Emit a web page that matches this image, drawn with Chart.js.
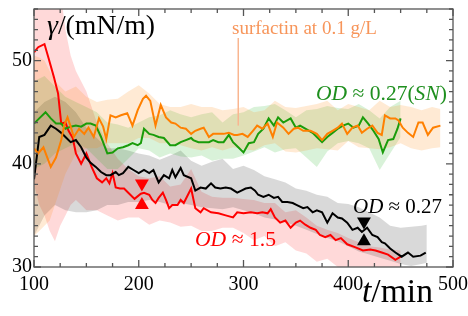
<!DOCTYPE html>
<html><head><meta charset="utf-8">
<script src="https://cdn.jsdelivr.net/npm/chart.js@4/dist/chart.umd.min.js"></script>
<style>html,body{margin:0;padding:0;background:#fff}canvas{display:block}</style>
</head><body>
<canvas id="c" width="468" height="316"></canvas>
<script>
// ---------- data (t in min, gamma in mN/m) ----------
const xTickLabels = [100, 200, 300, 400, 500];
const yTickLabels = [30, 40, 50];

const redT = [100,104,110,114,119,123,126,130,133,137,140,145,150,155,160,165,169,172,175,178,182,186,190,196,202,205,210,213,216,219,223,226,229,232,237,240,243,250,254,259,262,269,276,283,290,294,300,307,313,318,323,326,330,335,340,345,350,354,359,364,369,373,378,383,388,393,399,407,414,421,426,432,438,445,450];
const redY = [50.8,51.3,51.6,50.2,48.4,46.8,43.9,44.0,43.2,42.5,41.0,40.0,41.0,39.7,38.6,38.2,38.6,38.1,39.1,37.7,37.6,37.6,37.2,36.6,37.1,37.2,37.0,36.5,36.2,36.7,37.2,36.5,35.7,36.0,36.0,36.5,36.2,37.6,35.7,35.3,35.7,35.3,35.2,35.0,34.8,35.3,35.2,35.3,35.2,35.3,35.2,35.6,34.8,34.3,34.5,33.8,34.3,34.5,34.1,33.8,33.6,33.1,32.9,33.1,32.6,32.8,32.2,31.9,31.6,31.7,31.6,31.4,31.2,30.7,31.0];

const blackT = [100,105,110,116,121,126,130,135,140,145,150,154,159,164,169,173,178,181,185,190,195,200,205,210,214,219,224,229,232,235,240,243,250,254,259,264,269,273,278,283,288,294,298,302,307,311,314,319,324,329,333,337,342,347,351,357,361,366,370,375,380,385,390,394,399,404,409,413,418,423,428,432,435,440,445,451,457,462,469,474];
const blackY = [38.5,42.6,42.8,43.7,43.4,43.0,42.6,42.1,42.3,41.6,40.6,40.1,39.7,39.2,38.9,38.9,39.2,38.9,39.1,39.7,39.4,39.1,39.4,39.1,39.4,38.2,38.9,38.6,39.4,38.7,39.6,38.9,38.6,37.4,37.7,37.6,38.1,37.7,37.6,37.7,37.6,37.2,37.4,37.6,37.7,37.4,37.0,36.8,37.0,36.7,36.8,36.3,36.3,36.2,36.0,35.7,35.8,35.3,35.5,35.3,34.3,35.2,34.8,34.7,34.3,33.6,33.8,33.4,33.8,33.1,32.9,32.4,32.3,31.8,31.4,31.0,31.4,31.0,31.1,31.4];

const greenT = [100,105,111,116,121,126,130,135,140,145,150,154,159,164,170,175,180,185,190,194,199,202,205,210,214,219,224,230,235,240,245,250,252,257,262,267,271,276,281,286,290,295,300,305,310,314,319,324,329,333,338,345,350,354,359,366,370,375,380,385,390,395,400,405,410,414,419,424,429,433,438,443,447,450];
const greenY = [43.9,44.4,45.0,44.4,43.9,43.9,43.4,43.6,43.7,43.6,43.9,43.9,43.7,42.6,41.0,41.1,41.5,41.6,41.8,42.0,41.8,42.0,43.4,42.9,42.8,42.6,42.5,41.8,41.8,42.1,42.3,42.5,42.3,42.1,42.1,42.1,42.3,42.1,42.1,42.8,42.1,41.6,41.1,42.0,42.1,42.9,43.4,44.4,43.7,44.5,44.0,44.4,43.5,43.7,43.4,43.0,42.6,42.1,42.6,43.0,43.4,43.7,43.9,43.5,43.7,44.5,43.9,43.2,42.4,41.1,42.3,42.4,43.4,44.4];

const orangeT = [100,104,109,116,121,126,129,132,135,138,143,148,152,157,162,166,169,173,178,183,189,194,199,204,207,211,216,221,226,231,235,240,245,250,254,259,262,267,271,276,281,286,291,294,299,304,309,313,318,323,328,332,338,343,348,352,357,364,370,375,380,385,390,394,399,404,409,413,418,423,428,432,435,440,445,448,452,457,462,467,471,476,481,488];
const orangeY = [41.5,41.0,41.6,39.7,40.6,42.3,43.8,44.5,43.6,42.6,43.4,42.9,43.5,42.6,44.4,43.6,42.4,44.7,44.5,44.7,44.9,43.7,45.2,46.3,46.6,46.1,43.7,45.7,44.5,44.0,43.9,43.5,43.4,42.9,43.2,43.4,43.5,42.6,42.9,42.9,42.9,43.0,42.8,42.8,42.9,42.6,43.2,43.7,43.4,43.9,42.6,44.0,43.5,42.9,43.4,43.5,43.2,43.2,42.9,42.3,42.9,43.2,43.5,43.9,42.9,43.5,43.7,43.0,43.4,43.7,43.0,42.8,44.7,44.4,44.4,44.2,43.5,43.0,42.6,44.0,44.0,42.8,43.5,43.7];

// error bands (upper / lower)
const redBandT  = [100,105,110,115,120,125,130,135,140,145,150,155,160,170,180,190,200,210,220,230,240,250,260,270,280,290,300,310,320,330,340,350,360,370,380,390,400,410,420,430,440,450];
const redBandHi = [57,57,57,57,57,57,53,50.5,49,48,47,45.5,44,42,40.5,39.5,38.8,38.6,38.8,37.8,38,39.5,37.3,36.8,36.7,36.7,36.6,36.5,36.2,36.2,35.3,35.5,34.8,34,33.6,33.3,32.8,32.4,32.0,31.9,31.7,31.6];
const redBandLo = [38,36,35,33.5,32.5,34,35,36,36.5,36,35.5,35.5,35.5,35,34.5,34.8,34.8,34.1,34.5,34.3,33.9,34,33.5,33.5,33.8,33.8,33.3,32.6,33,32,32.4,31.6,31.3,30.5,30.8,30,29.5,29.5,29.5,29.5,29.5,29.5];

const blackBandT  = [100,110,120,130,140,150,160,170,180,190,200,210,220,230,240,250,260,270,280,290,300,310,320,330,340,350,360,370,380,390,400,410,420,430,440,450,460,470,475];
const blackBandHi = [45,46,46.5,46,45,43.5,42.5,41.5,41.5,41.3,41,40.8,40.4,40.8,41.3,40.3,39.8,40.2,40.5,39.5,39.8,39.4,38.8,38.5,38.2,37.6,37.4,37.0,36.8,36.2,36.1,35.8,35.3,34.8,34.0,33.8,33.9,34.0,34.1];
const blackBandLo = [33,35,36,35.5,35.3,35.3,35.5,36,36,36.3,36.3,36.5,36.3,36,36.2,36,35.8,35.7,35.6,35.8,35.5,35.2,34.8,34.6,34.3,34.0,33.6,33.2,32.8,32.5,32,31.5,31.2,30.9,30.6,30.3,30.1,30.3,30.4];

const greenBandT  = [100,110,120,130,140,150,160,170,180,190,200,210,220,230,240,250,260,270,280,290,300,310,320,330,340,350,360,370,380,390,400,410,420,430,440,450];
const greenBandHi = [48,48.5,47.5,46.5,46,45.5,45,44,43.8,43.5,44,44.5,44.7,45.2,44.8,44.5,44.8,45,44,44.8,45,45.5,45.6,45.8,45.2,44.5,45.2,45.3,45.6,45.4,45.3,45.8,45.2,44.4,45.5,46.1];
const greenBandLo = [39.5,40,41,41.5,42,41.5,40.5,39.5,39.5,40.5,41.5,41.3,40.6,41,40.7,40.6,40.8,40.3,40.5,40.5,40.8,41.2,41.6,41.1,41.4,41.5,40.6,39.7,41.2,42,42.2,42,41.5,39.4,41,42.6];

const orangeBandT  = [100,105,110,115,120,130,140,150,160,170,180,190,200,210,220,230,240,250,260,270,280,290,300,310,320,330,340,350,360,370,380,390,400,410,420,430,440,450,460,470,480,488];
const orangeBandHi = [50.5,50.3,50,49,48,47,47.5,46.5,46,46.2,46.3,47,47.6,46.8,45.8,45.5,45.5,45.8,45.5,45.5,45.2,45.3,45.5,45,45.2,46.1,45.5,45.4,45.6,45.8,46.1,45.2,45.8,45.5,45.2,46.1,45.5,45.7,45.5,45.2,45.5,45.3];
const orangeBandLo = [33,33.5,34,34.5,36,39,41,41.5,41.5,42,42,42,42.5,42.5,42,42,41.8,41.5,41.3,41.6,41.3,41.6,41.4,41.3,41.8,42,41.2,41.1,41.3,41.5,41.4,41.3,42.2,41.6,41.5,41.4,41.6,42,41.5,41.3,41.5,41.6];

// triangle markers
const redMarkT = [203];   const redDownY = [38.1];   const redUpY = [36.0];
const blackMarkT = [415]; const blackDownY = [34.4]; const blackUpY = [32.5];

// ---------- chart ----------
const SERIF = "'Liberation Serif','DejaVu Serif',serif";
const RED = '#ff0000', BLACK = '#000000', GREEN = '#1a9c0a', ORANGE = '#ff8000';
const pts = (t, v) => t.map((x, i) => ({x: x, y: v[i]}));

function band(t, hi, lo, color) {
  return [
    {data: pts(t, hi), borderWidth: 0, pointRadius: 0, fill: '+1', backgroundColor: color, order: 10},
    {data: pts(t, lo), borderWidth: 0, pointRadius: 0, fill: false, backgroundColor: color, order: 10}
  ];
}
function line(t, v, color) {
  return {data: pts(t, v), borderColor: color, borderWidth: 2, pointRadius: 0, fill: false, order: 1, borderJoinStyle: 'miter'};
}
function tri(t, v, color, down) {
  return {type: 'scatter', data: pts(t, v), pointStyle: 'triangle', rotation: down ? 180 : 0,
    pointRadius: 8, pointBackgroundColor: color, pointBorderWidth: 0, borderWidth: 0, order: 0};
}

const datasets = [
  ...band(orangeBandT, orangeBandHi, orangeBandLo, 'rgba(255,128,0,0.17)'),
  ...band(greenBandT, greenBandHi, greenBandLo, 'rgba(0,170,0,0.15)'),
  ...band(blackBandT, blackBandHi, blackBandLo, 'rgba(0,0,0,0.15)'),
  ...band(redBandT, redBandHi, redBandLo, 'rgba(255,0,0,0.15)'),
  line(orangeT, orangeY, ORANGE),
  line(greenT, greenY, GREEN),
  line(blackT, blackY, BLACK),
  line(redT, redY, RED),
  tri(redMarkT, redDownY, RED, true),
  tri(redMarkT, redUpY, RED, false),
  tri(blackMarkT, blackDownY, BLACK, true),
  tri(blackMarkT, blackUpY, BLACK, false)
];

function rich(ctx, parts, x, base, size, color, targetW) {
  const f = (it, s) => (it ? 'italic ' : '') + s + 'px ' + SERIF;
  let w = 0;
  parts.forEach(p => { ctx.font = f(p[1], size); w += ctx.measureText(p[0]).width; });
  if (targetW) size = size * targetW / w;
  ctx.fillStyle = color; ctx.textAlign = 'left'; ctx.textBaseline = 'alphabetic';
  let cx = x;
  parts.forEach(p => { ctx.font = f(p[1], size); ctx.fillText(p[0], cx, base); cx += ctx.measureText(p[0]).width; });
}

const decor = {
  id: 'decor',
  afterDraw(chart) {
    const ctx = chart.ctx, a = chart.chartArea, xs = chart.scales.x, ys = chart.scales.y;
    ctx.save();
    ctx.strokeStyle = '#555'; ctx.lineWidth = 1.3;
    ctx.strokeRect(a.left, a.top, a.right - a.left, a.bottom - a.top);
    ctx.beginPath();
    for (let v = 100; v <= 500; v += 25) {
      const px = xs.getPixelForValue(v), L = (v % 100 === 0) ? 7 : 4;
      ctx.moveTo(px, a.bottom); ctx.lineTo(px, a.bottom - L);
      ctx.moveTo(px, a.top); ctx.lineTo(px, a.top + L);
    }
    for (let v = 30; v <= 55; v += 1) {
      const py = ys.getPixelForValue(v), L = (v % 10 === 0) ? 7 : 4;
      ctx.moveTo(a.left, py); ctx.lineTo(a.left + L, py);
      ctx.moveTo(a.right, py); ctx.lineTo(a.right - L, py);
    }
    ctx.stroke();
    // annotation line for surfactin
    ctx.strokeStyle = '#f9b690'; ctx.lineWidth = 1.5;
    ctx.beginPath();
    ctx.moveTo(xs.getPixelForValue(295), 38);
    ctx.lineTo(xs.getPixelForValue(295), ys.getPixelForValue(43.7));
    ctx.stroke();
    // texts
    rich(ctx, [['γ', true], ['/(mN/m)', false]], 47, 34, 20, '#000', 108);
    rich(ctx, [['surfactin at 0.1 g/L', false]], 232, 34, 15, '#f7955a', 145);
    rich(ctx, [['OD', true], [' ≈ 0.27(', false], ['SN', true], [')', false]], 316, 100, 18, '#1e8f1e', 131);
    rich(ctx, [['OD', true], [' ≈ 0.27', false]], 353, 213, 18, '#000', 89);
    rich(ctx, [['OD', true], [' ≈ 1.5', false]], 195, 246, 18, RED, 81);
    rich(ctx, [['t', true], ['/min', false]], 362, 302, 24, '#000', 71);
    ctx.restore();
  }
};

new Chart(document.getElementById('c'), {
  type: 'line',
  data: {datasets: datasets},
  options: {
    responsive: false, animation: false, devicePixelRatio: 1,
    layout: {padding: {top: 9, right: 15, left: 0, bottom: 0}},
    plugins: {legend: {display: false}, tooltip: {enabled: false}, filler: {propagate: false}},
    elements: {line: {tension: 0}},
    scales: {
      x: {
        type: 'linear', min: 100, max: 500,
        grid: {display: false, drawTicks: false}, border: {display: false},
        ticks: {stepSize: 100, padding: 6, color: '#000', font: {family: SERIF, size: 20},
          maxRotation: 0, callback: v => xTickLabels.includes(v) ? String(v) : null},
        afterFit(s) { s.height = 49; s.paddingLeft = 0; s.paddingRight = 0; }
      },
      y: {
        type: 'linear', min: 30, max: 55,
        grid: {display: false, drawTicks: false}, border: {display: false},
        ticks: {stepSize: 10, includeBounds: false, padding: 2, color: '#000', font: {family: SERIF, size: 20},
          callback: v => yTickLabels.includes(v) ? String(v) : null},
        afterFit(s) { s.width = 34; s.paddingTop = 0; s.paddingBottom = 0; }
      }
    }
  },
  plugins: [decor]
});
</script>
</body></html>
